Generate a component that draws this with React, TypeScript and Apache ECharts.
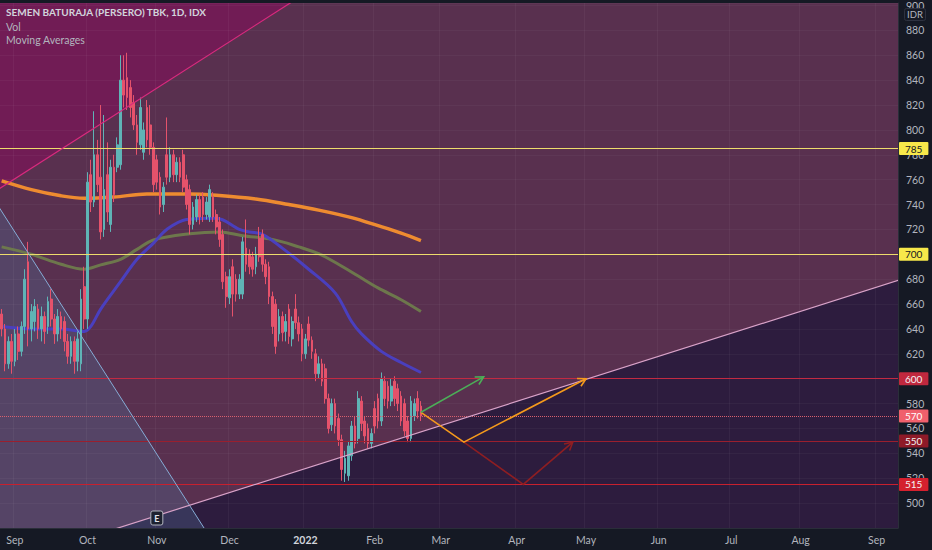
import React, { useEffect, useRef } from 'react';
import * as echarts from 'echarts';

const FONT = "Lato, 'Noto Sans', sans-serif";
const MONTHS = ['Jan', 'Feb', 'Mar', 'Apr', 'May', 'Jun', 'Jul', 'Aug', 'Sep', 'Oct', 'Nov', 'Dec'];

const START_DATE = '2021-08-26';
const END_DATE = '2022-09-09';

function tradingDays(a: string, b: string): string[] {
  const out: string[] = [];
  const d = new Date(a + 'T00:00:00Z');
  const e = new Date(b + 'T00:00:00Z');
  while (d <= e) {
    const wd = d.getUTCDay();
    if (wd !== 0 && wd !== 6) out.push(d.toISOString().slice(0, 10));
    d.setUTCDate(d.getUTCDate() + 1);
  }
  return out;
}
const dates = tradingDays(START_DATE, END_DATE);

// [open, close, low, high]
const candles: number[][] = [
  [652, 640, 634, 656], [640, 612, 606, 644], [612, 630, 608, 634], [630, 614, 604, 636],
  [614, 636, 610, 640], [636, 622, 615, 642], [622, 642, 618, 646], [642, 680, 636, 688],
  [694, 640, 626, 710], [640, 654, 630, 660], [646, 658, 638, 664], [656, 640, 632, 660],
  [640, 650, 630, 658], [650, 638, 628, 654], [642, 662, 636, 666], [664, 648, 642, 672],
  [648, 636, 628, 652], [636, 650, 630, 656], [650, 640, 632, 654], [646, 630, 622, 650],
  [630, 618, 612, 636], [618, 630, 612, 634], [630, 614, 604, 634], [614, 632, 606, 638],
  [612, 664, 606, 672], [674, 648, 640, 690], [648, 758, 640, 766], [764, 742, 734, 776],
  [742, 780, 738, 815], [780, 756, 750, 792], [762, 718, 712, 820], [720, 752, 714, 812],
  [764, 734, 726, 790], [724, 770, 718, 776], [770, 748, 742, 780], [770, 788, 766, 794],
  [772, 840, 768, 860], [840, 828, 818, 860], [842, 826, 816, 862], [834, 818, 810, 840],
  [822, 804, 800, 828], [804, 790, 780, 812], [788, 818, 784, 826], [782, 800, 776, 806],
  [818, 792, 786, 824], [804, 786, 780, 820], [786, 756, 750, 790], [776, 758, 752, 780],
  [762, 738, 732, 766], [740, 754, 734, 758], [780, 762, 756, 810], [762, 780, 758, 786],
  [780, 764, 758, 784], [764, 774, 758, 778], [774, 762, 758, 778], [780, 754, 750, 784],
  [760, 740, 736, 764], [752, 724, 716, 756], [724, 738, 720, 742], [730, 744, 726, 748],
  [744, 730, 724, 748], [746, 732, 726, 750], [732, 742, 728, 746], [730, 752, 726, 756],
  [746, 730, 726, 750], [732, 722, 716, 736], [726, 712, 706, 730], [716, 678, 672, 720],
  [682, 666, 657, 686], [665, 682, 660, 688], [690, 668, 650, 696], [680, 668, 662, 684],
  [668, 680, 664, 684], [668, 710, 664, 714], [705, 692, 686, 728], [700, 690, 684, 704],
  [698, 688, 682, 702], [690, 700, 684, 706], [713, 698, 694, 722], [716, 692, 686, 720],
  [692, 682, 676, 696], [690, 666, 660, 694], [666, 642, 636, 670], [660, 626, 620, 664],
  [636, 650, 630, 656], [650, 637, 630, 654], [638, 646, 630, 652], [656, 634, 628, 660],
  [632, 646, 626, 650], [656, 645, 640, 668], [645, 636, 630, 650], [640, 620, 614, 644],
  [620, 632, 616, 636], [644, 631, 626, 650], [631, 622, 616, 634], [620, 604, 598, 624],
  [604, 612, 600, 618], [612, 598, 594, 616], [608, 584, 580, 612], [584, 560, 556, 588],
  [563, 580, 558, 584], [580, 562, 556, 584], [568, 551, 546, 572], [551, 527, 518, 555],
  [524, 536, 517, 542], [522, 546, 518, 550], [538, 562, 534, 566], [562, 548, 544, 570],
  [552, 584, 548, 590], [582, 564, 558, 586], [566, 554, 548, 570], [560, 548, 544, 564],
  [548, 556, 544, 560], [576, 562, 556, 582], [584, 566, 560, 588], [566, 600, 562, 605],
  [598, 584, 578, 602], [594, 582, 576, 598], [582, 594, 578, 600], [598, 584, 578, 602],
  [592, 580, 574, 596], [586, 566, 562, 590], [580, 558, 554, 584], [566, 552, 549, 570],
  [552, 582, 549, 586], [570, 580, 566, 584], [584, 574, 568, 590], [578, 570, 566, 582],
];

// moving averages: [bar index, value]
const ma200 = [[0, 759], [9, 752], [18, 747], [25, 745], [34, 746], [44, 748.5], [57, 748.5], [65, 747.5], [77, 744.5], [87, 740], [96, 735.5], [106, 729.5], [114, 723], [121, 717], [127, 711]];
const ma100 = [[0, 706], [9, 700], [18, 692], [25, 688], [30, 691.5], [36, 696], [41, 704], [46, 711.5], [57, 716.5], [66, 718], [73, 715], [82, 712], [90, 706], [96, 700.5], [102, 692], [108, 682.5], [114, 673], [121, 663.5], [127, 654]];
const ma50 = [[0, 642], [9, 640], [18, 640], [25, 638], [27, 642], [30, 656], [36, 678], [41, 696], [46, 709], [50, 720], [56, 728], [65, 729], [72, 720], [75, 718], [79, 716], [85, 705], [93, 688], [101, 669], [106, 646], [109, 636], [115, 622], [121, 613], [127, 605]];

// horizontal levels
const levelValues = [785, 700, 600, 570, 550, 515];

// drawings (bar index, price)
const pinkLine = [[0, 754], [88, 903]];
const blueLine = [[0, 734.5], [60, 485.4]];
const whiteLine = [[40, 484], [260, 669.3]];
const greenArrow = [[127, 573], [146, 601.5]];
const orangeArrow = [[127, 573], [140, 549], [177, 600]];
const redArrow = [[140, 549], [158, 515], [173, 549]];
const earningsIndex = 47;

const levelStyles = [
  { line: '#eedc6c', type: 'solid', bg: '#f7e84a', fg: '#131722' },
  { line: '#eedc6c', type: 'solid', bg: '#f7e84a', fg: '#131722' },
  { line: '#c22a42', type: 'solid', bg: '#c0283e', fg: '#f3f3f3' },
  { line: '#d8606e', type: 'dotted', bg: '#f0606c', fg: '#ffffff' },
  { line: '#9a1f2e', type: 'solid', bg: '#8e1a28', fg: '#f3f3f3' },
  { line: '#c8202e', type: 'solid', bg: '#d4202e', fg: '#f3f3f3' },
];

const lineAt = (l: number[][], i: number) => l[0][1] + ((i - l[0][0]) * (l[1][1] - l[0][1])) / (l[1][0] - l[0][0]);

const isMonthStart = (i: number) => i > 0 && dates[i].slice(5, 7) !== dates[i - 1].slice(5, 7);

export default function App() {
  const ref = useRef<HTMLDivElement>(null);
  useEffect(() => {
    document.body.style.margin = '0';
    const chart = echarts.init(ref.current!, undefined, { renderer: 'svg' });
    const L = -60;
    const R = 340;

    const bgRender = (params: any, api: any) => {
      const cs = params.coordSys;
      const k = params.dataIndex;
      const pt = (i: number, p: number) => api.coord([i, p]);
      if (k === 0) {
        return { type: 'rect', shape: { x: cs.x, y: cs.y, width: cs.width, height: cs.height }, style: { fill: '#59304f' } };
      }
      if (k === 1) {
        return {
          type: 'polygon',
          shape: { points: [pt(L, lineAt(whiteLine, L)), pt(R, lineAt(whiteLine, R)), pt(R, 0), pt(L, 0)] },
          style: { fill: '#2d1c3e' },
        };
      }
      if (k === 2) {
        return {
          type: 'polygon',
          shape: { points: [pt(L, lineAt(pinkLine, L)), pt(R, lineAt(pinkLine, R)), pt(L, 3000)] },
          style: { fill: '#711c55' },
        };
      }
      return {
        type: 'polygon',
        shape: { points: [pt(L, lineAt(blueLine, L)), pt(R, lineAt(blueLine, R)), pt(L, lineAt(blueLine, R))] },
        style: { fill: 'rgba(80,110,150,0.33)' },
      };
    };

    const head = (a: number[], b: number[], color: string) => {
      const ang = Math.atan2(b[1] - a[1], b[0] - a[0]);
      const len = 9;
      const sp = 0.5;
      const p1 = [b[0] - len * Math.cos(ang - sp), b[1] - len * Math.sin(ang - sp)];
      const p2 = [b[0] - len * Math.cos(ang + sp), b[1] - len * Math.sin(ang + sp)];
      return { type: 'polyline', shape: { points: [p1, b, p2] }, style: { stroke: color, lineWidth: 1.6, fill: 'none' } };
    };

    const drawRender = (params: any, api: any) => {
      const cs = params.coordSys;
      const k = params.dataIndex;
      const pt = (i: number, p: number) => api.coord([i, p]);
      const seg = (l: number[][], color: string, w: number) => ({
        type: 'line',
        shape: { x1: pt(L, lineAt(l, L))[0], y1: pt(L, lineAt(l, L))[1], x2: pt(R, lineAt(l, R))[0], y2: pt(R, lineAt(l, R))[1] },
        style: { stroke: color, lineWidth: w },
      });
      if (k === 0) return seg(pinkLine, '#d92a7e', 1.2);
      if (k === 1) return seg(blueLine, '#86acd6', 1);
      if (k === 2) return seg(whiteLine, '#d9a2c8', 1.2);
      const arrow = (pts: number[][], color: string) => {
        const px = pts.map((p) => pt(p[0], p[1]));
        return {
          type: 'group',
          children: [
            { type: 'polyline', shape: { points: px }, style: { stroke: color, lineWidth: 1.6, fill: 'none' } },
            head(px[px.length - 2], px[px.length - 1], color),
          ],
        };
      };
      if (k === 3) return arrow(redArrow, '#8e1e22');
      if (k === 4) return arrow(orangeArrow, '#f59a1c');
      if (k === 5) return arrow(greenArrow, '#4cae58');
      const x = pt(earningsIndex, 600)[0];
      const y = cs.y + cs.height - 17;
      return {
        type: 'group',
        children: [
          { type: 'rect', shape: { x: x - 6, y, width: 12, height: 14, r: 2 }, style: { fill: '#1e2230', stroke: '#b2b5be', lineWidth: 1 } },
          { type: 'text', style: { x, y: y + 7, text: 'E', fill: '#e0e3eb', fontSize: 9, fontFamily: FONT, fontWeight: 'bold', align: 'center', verticalAlign: 'middle' } },
        ],
      };
    };

    const markData = levelValues.map((v, i) => ({
      yAxis: v,
      lineStyle: { color: levelStyles[i].line, type: levelStyles[i].type, width: 1 },
      label: {
        show: true,
        position: 'end',
        distance: 1,
        formatter: String(v),
        backgroundColor: levelStyles[i].bg,
        color: levelStyles[i].fg,
        padding: [1, 6, 1, 6],
        lineHeight: 11,
        fontSize: 10,
        fontFamily: FONT,
        borderRadius: 1,
      },
    }));

    const maSeries = (data: number[][], color: string, width: number, opacity: number) => ({
      type: 'line',
      data,
      smooth: 0.35,
      showSymbol: false,
      symbol: 'none',
      silent: true,
      z: 3,
      lineStyle: { color, width, opacity },
    });

    chart.setOption({
      animation: false,
      backgroundColor: '#151924',
      grid: { left: 0, right: 34, top: 0, bottom: 22 },
      graphic: [
        { type: 'text', left: 6, top: 7, z: 100, style: { text: 'SEMEN BATURAJA (PERSERO) TBK, 1D, IDX', fill: '#d1d4dc', fontSize: 10, fontWeight: 'bold', fontFamily: FONT } },
        { type: 'text', left: 6, top: 21, z: 100, style: { text: 'Vol', fill: '#b2b5be', fontSize: 10.5, fontFamily: FONT } },
        { type: 'text', left: 6, top: 34, z: 100, style: { text: 'Moving Averages', fill: '#b2b5be', fontSize: 10.5, fontFamily: FONT } },
        { type: 'rect', left: 904, top: 8, z: 100, shape: { width: 21, height: 12, r: 2 }, style: { fill: '#151924', stroke: '#2e3240', lineWidth: 1 } },
        { type: 'text', left: 907, top: 9.5, z: 101, style: { text: 'IDR', fill: '#b2b5be', fontSize: 9.5, fontFamily: FONT } },
      ],
      xAxis: {
        type: 'category',
        data: dates,
        boundaryGap: true,
        axisLine: { show: true, lineStyle: { color: '#2a2e39' } },
        axisTick: { show: false },
        axisLabel: {
          interval: (i: number) => isMonthStart(i),
          formatter: (v: string) => {
            const m = +v.slice(5, 7);
            return m === 1 ? '{y|' + v.slice(0, 4) + '}' : MONTHS[m - 1];
          },
          color: '#b2b5be',
          fontSize: 10.5,
          fontFamily: FONT,
          margin: 6,
          rich: { y: { fontWeight: 'bold', color: '#d1d4dc', fontSize: 10.5, fontFamily: FONT } },
        },
        splitLine: { show: true, interval: (i: number) => isMonthStart(i), lineStyle: { color: 'rgba(255,255,255,0.045)' } },
      },
      yAxis: {
        type: 'value',
        position: 'right',
        min: 480,
        max: 902,
        interval: 20,
        axisLine: { show: true, lineStyle: { color: '#2a2e39' } },
        axisTick: { show: false },
        axisLabel: {
          color: '#b2b5be',
          fontSize: 10.5,
          fontFamily: FONT,
          margin: 8,
          formatter: (v: number) => (v % 20 === 0 && v > 480 && levelValues.indexOf(v) < 0 ? String(v) : ''),
        },
        splitLine: { show: true, lineStyle: { color: 'rgba(255,255,255,0.035)' } },
      },
      series: [
        {
          type: 'custom',
          renderItem: bgRender,
          data: [[0, 600], [1, 600], [2, 600], [3, 600]],
          clip: true,
          silent: true,
          z: -1,
        },
        maSeries(ma200, '#f7902e', 3.5, 0.95),
        maSeries(ma100, '#6f7b4c', 3, 0.95),
        maSeries(ma50, '#4a40c4', 3, 0.95),
        {
          type: 'candlestick',
          data: candles,
          barWidth: 2.2,
          z: 4,
          silent: true,
          itemStyle: { color: '#5fb4b6', color0: '#e5526b', borderColor: '#5fb4b6', borderColor0: '#e5526b', borderWidth: 1 },
          markLine: { symbol: ['none', 'none'], silent: true, animation: false, data: markData },
        },
        {
          type: 'custom',
          renderItem: drawRender,
          data: [[0, 600], [1, 600], [2, 600], [3, 600], [4, 600], [5, 600], [6, 600]],
          clip: true,
          silent: true,
          z: 6,
        },
      ],
    });
    return () => chart.dispose();
  }, []);
  return <div ref={ref} style={{ width: 932, height: 550 }} />;
}
